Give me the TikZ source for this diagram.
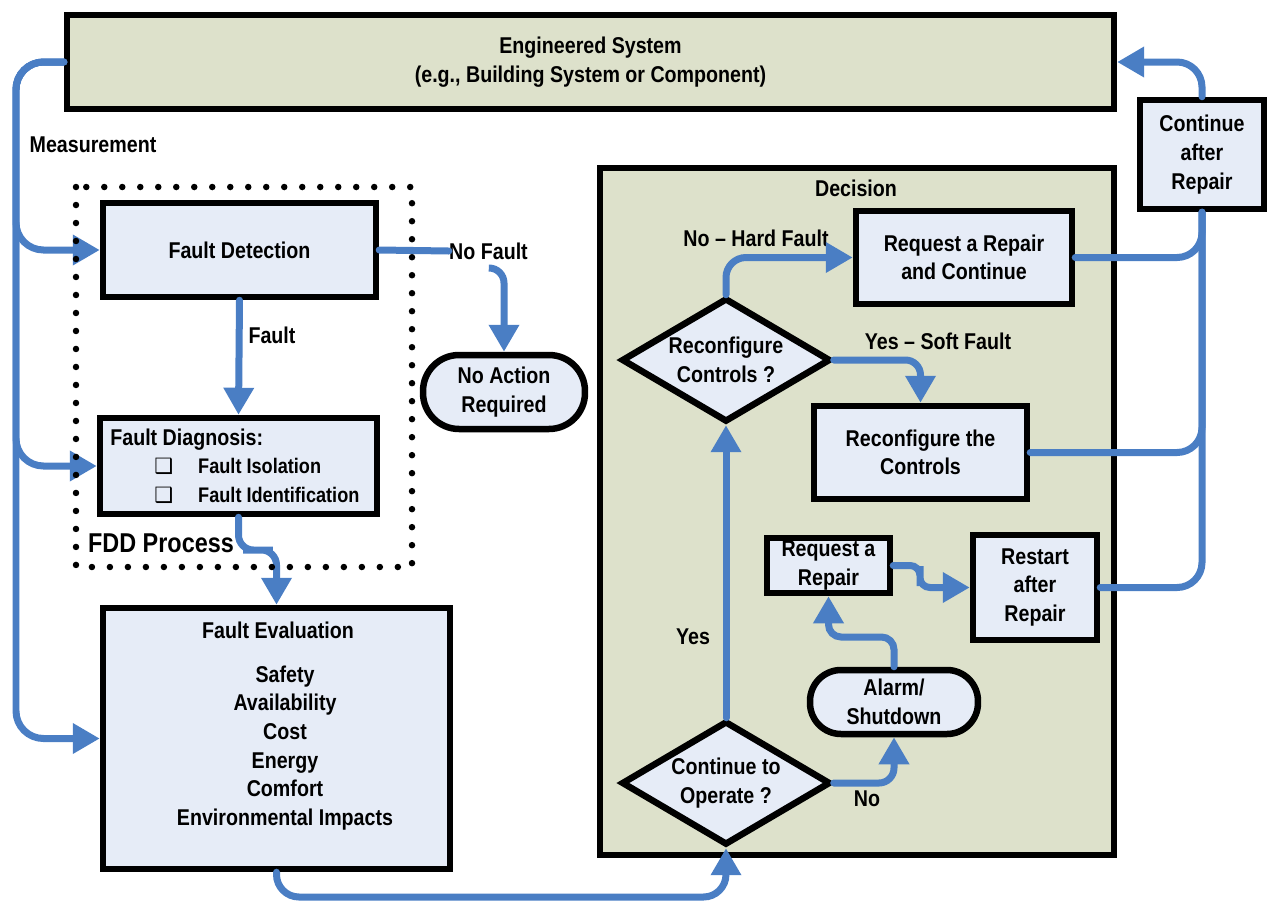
\documentclass[tikz,border=0pt]{standalone}
\usepackage{fontspec}
\setmainfont{Liberation Sans}[FakeStretch=0.86]
\newfontfamily\dingfont{DejaVu Sans}
\usetikzlibrary{arrows.meta,shapes.geometric,calc}
\definecolor{sysfill}{HTML}{DDE1CB}
\definecolor{boxfill}{HTML}{E6ECF7}
\definecolor{flowblue}{HTML}{4A7EC4}
\newcommand{\ckbox}{{\dingfont\fontsize{12}{12}\selectfont ❑}}
\newcommand{\itemtxt}[1]{{\fontsize{12}{16.3}\selectfont #1}}

\tikzset{
  every node/.style={font=\bfseries\fontsize{13}{16.3}\selectfont, align=center, inner sep=0pt},
  box/.style={draw, line width=1.3mm, fill=boxfill},
  pill/.style={box, rounded corners=#1},
  choice/.style={box, diamond, aspect=1.65, minimum width=4.18cm, minimum height=2.48cm},
  flow/.style={draw=flowblue, line width=1.4mm, line cap=round, -{Triangle[length=5.4mm,width=5.8mm]}},
  link/.style={draw=flowblue, line width=1.4mm, line cap=round}
}

\begin{document}
\begin{tikzpicture}[x=0.02cm, y=-0.02cm]
    \useasboundingbox (0,0) rectangle (1269,904);

    % Panels
    \node[box, fill=sysfill, minimum width=20.94cm, minimum height=1.88cm] (sys) at (590.5,62) {Engineered System\\(e.g., Building System or Component)};
    \node[box, fill=sysfill, minimum width=10.28cm, minimum height=13.74cm] (dec) at (857,511.5) {};
    \node (declbl) at (856,188) {Decision};

    % FDD process
    \node[box, minimum width=5.46cm, minimum height=1.88cm] (det) at (239.5,250) {Fault Detection};
    \node[box, minimum width=5.54cm, minimum height=1.92cm] (diag) at (238.5,466) {};
    \node[anchor=west, align=left] (diagtxt) at (110,466)
        {Fault Diagnosis:\\\hspace*{0.88cm}\ckbox\hspace{0.5cm}\itemtxt{Fault Isolation}\\\hspace*{0.88cm}\ckbox\hspace{0.5cm}\itemtxt{Fault Identification}};
    \node[box, minimum width=6.94cm, minimum height=5.22cm] (eval) at (276.5,738.5) {};
    \node (evalhead) at (278,630) {Fault Evaluation};
    \node (evallist) at (285,748) {Safety\\Availability\\Cost\\Energy\\Comfort\\Environmental Impacts};
    \node[pill=0.72cm, minimum width=3.24cm, minimum height=1.48cm] (noact) at (504,392) {No Action\\Required};

    % Decision
    \node[choice] (rc) at (726,360) {Reconfigure\\Controls ?};
    \node[choice] (co) at (726,783) {Continue to\\Operate ?};
    \node[box, minimum width=4.32cm, minimum height=1.86cm] (reqc) at (964,257.5) {Request a Repair\\and Continue};
    \node[box, minimum width=4.26cm, minimum height=1.86cm] (recon) at (920.5,452.5) {Reconfigure the\\Controls};
    \node[box, minimum width=2.46cm, minimum height=1.1cm] (req) at (828.5,565.5) {Request a\\Repair};
    \node[box, minimum width=2.48cm, minimum height=2.1cm] (rest) at (1035,587.5) {Restart\\after\\Repair};
    \node[pill=0.62cm, minimum width=3.36cm, minimum height=1.28cm] (alarm) at (894,702) {Alarm/\\Shutdown};
    \node[box, minimum width=2.48cm, minimum height=2.18cm] (car) at (1202,154.5) {Continue\\after\\Repair};

    % Labels
    \node (meas) at (93,145) {Measurement};
    \node (lblfault) at (272,335) {Fault};
    \node (nofault) at (488.5,251) {No Fault};
    \node[font=\bfseries\fontsize{15.5}{18}\selectfont] (fddlbl) at (161,543) {FDD Process};
    \node (lblhard) at (756,238) {No – Hard Fault};
    \node (lblsoft) at (938,341) {Yes – Soft Fault};
    \node (lblyes) at (693,637) {Yes};
    \node (lblno) at (867,799) {No};

    % Bends
    \coordinate (mbus) at (16,0);
    \coordinate (sbend) at (258,550);
    \coordinate (nfstart) at (490,268);
    \coordinate (bot) at (0,897);
    \coordinate (abend) at (860,637);
    \coordinate (rbend) at (920,576);

    % Connectors
    \draw[flow, rounded corners=0.55cm] (sys.west) -| (mbus |- det.west) -- (det.west);
    \draw[flow, rounded corners=0.55cm] (sys.west) -| (mbus |- diag.west) -- (diag.west);
    \draw[flow, rounded corners=0.55cm] (sys.west) -| (mbus |- eval.west) -- (eval.west);
    \draw[flow] (det.south) -- (diag.north);
    \draw[flow, rounded corners=0.3cm] (diag.south) |- (sbend) -| (eval.north);
    \draw[link] (det.east) -- (nofault.west);
    \draw[flow, rounded corners=0.3cm] (nfstart) -| (noact.north);
    \draw[flow, rounded corners=0.45cm] (eval.south) -- (eval.south |- bot) -| (co.south);
    \draw[flow] (co.north) -- (rc.south);
    \draw[flow, rounded corners=0.4cm] (rc.north) |- (reqc.west);
    \draw[flow, rounded corners=0.3cm] (rc.east) -| (recon.north);
    \draw[flow, rounded corners=0.3cm] (co.east) -| (alarm.south);
    \draw[flow, rounded corners=0.25cm] (alarm.north) |- (abend) -| (req.south);
    \draw[flow, rounded corners=0.2cm] (req.east) -| (rbend) |- (rest.west);
    \draw[link, rounded corners=0.5cm] (reqc.east) -| (car.south);
    \draw[link, rounded corners=0.5cm] (recon.east) -| (car.south);
    \draw[link, rounded corners=0.5cm] (rest.east) -| (car.south);
    \draw[flow, rounded corners=0.5cm] (car.north) |- (sys.east);

    % FDD frame
    \draw[line width=1.3mm, line cap=round, dash pattern=on 0pt off 0.36cm] (76,187) rectangle (412,567);
\end{tikzpicture}
\end{document}
